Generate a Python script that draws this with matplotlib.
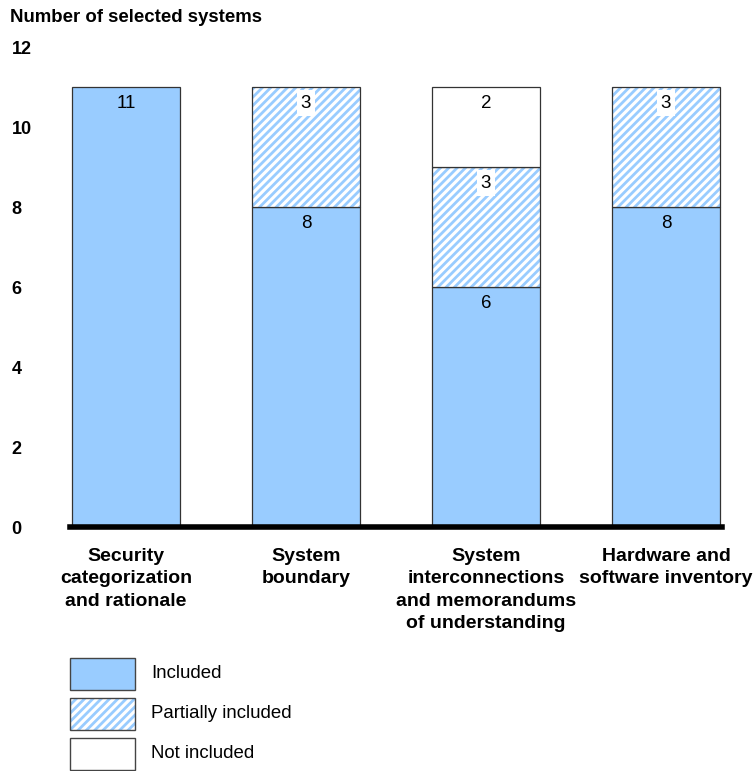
import matplotlib
matplotlib.use('Agg')
import matplotlib.pyplot as plt
from matplotlib.patches import Rectangle

plt.rcParams['font.family'] = ['Liberation Sans', 'DejaVu Sans']
plt.rcParams['hatch.linewidth'] = 2.0

CATEGORIES = ['Security\ncategorization\nand rationale',
              'System\nboundary',
              'System\ninterconnections\nand memorandums\nof understanding',
              'Hardware and\nsoftware inventory']
INCLUDED = [11, 8, 6, 8]
PARTIAL = [0, 3, 3, 3]
NOT_INCLUDED = [0, 0, 2, 0]
Y_TICKS = [0, 2, 4, 6, 8, 10, 12]

BLUE = '#99CCFF'
EDGE = '#333333'
W, H = 753, 771

fig = plt.figure(figsize=(W / 100, H / 100), dpi=100, facecolor='white')
ax = fig.add_axes([70 / W, 1 - 527 / H, 652 / W, 480 / H])

x = list(range(len(CATEGORIES)))
width = 0.6

# included (solid)
ax.bar(x, INCLUDED, width, color=BLUE, edgecolor=EDGE, linewidth=0.9, zorder=2)
# partially included (hatched): hatch layer then outline
ax.bar(x, PARTIAL, width, bottom=INCLUDED, color='white', edgecolor=BLUE,
       hatch='////', linewidth=0, zorder=2)
px = [i for i in x if PARTIAL[i] > 0]
ax.bar(px, [PARTIAL[i] for i in px], width, bottom=[INCLUDED[i] for i in px],
       fill=False, edgecolor=EDGE, linewidth=0.9, zorder=3)
bottom3 = [a + b for a, b in zip(INCLUDED, PARTIAL)]
nx = [i for i in x if NOT_INCLUDED[i] > 0]
ax.bar(nx, [NOT_INCLUDED[i] for i in nx], width, bottom=[bottom3[i] for i in nx],
       color='white', edgecolor=EDGE, linewidth=0.9, zorder=3)

# value labels near segment tops
for i in x:
    segs = [(INCLUDED[i], 0, False),
            (PARTIAL[i], INCLUDED[i], True),
            (NOT_INCLUDED[i], bottom3[i], False)]
    for val, bot, boxed in segs:
        if val <= 0:
            continue
        kw = {}
        if boxed:
            kw['bbox'] = dict(facecolor='white', edgecolor='none', pad=3)
        ax.text(i, bot + val - 0.4, str(val), ha='center', va='center',
                fontsize=13.5, zorder=5, **kw)

ax.set_xlim(-0.311, 3.311)
ax.set_ylim(0, 12)
ax.set_yticks(Y_TICKS)
ax.set_yticklabels([str(t) for t in Y_TICKS], fontweight='bold', fontsize=13,
                   ha='left')
ax.tick_params(axis='y', length=0, pad=42)
ax.set_xticks(x)
ax.set_xticklabels(CATEGORIES, fontweight='bold', fontsize=14, va='top',
                   linespacing=1.42)
ax.tick_params(axis='x', length=0, pad=15)
for s in ['top', 'right', 'left']:
    ax.spines[s].set_visible(False)
ax.spines['bottom'].set_linewidth(4)
ax.spines['bottom'].set_zorder(6)

fig.text(10 / W, 1 - 18 / H, 'Number of selected systems', fontweight='bold',
         fontsize=13.4, va='center', ha='left')

# legend drawn manually
legend_items = [('Included', BLUE, None),
                ('Partially included', 'white', '////'),
                ('Not included', 'white', None)]
for k, (label, fc, hatch) in enumerate(legend_items):
    top = 658 + 40 * k
    box = (70 / W, 1 - (top + 32) / H)
    if hatch:
        fig.add_artist(Rectangle(box, 65 / W, 32 / H, transform=fig.transFigure,
                                 facecolor=fc, edgecolor=BLUE, hatch=hatch,
                                 linewidth=0))
        fig.add_artist(Rectangle(box, 65 / W, 32 / H, transform=fig.transFigure,
                                 fill=False, edgecolor='#444444', linewidth=1.0))
    else:
        fig.add_artist(Rectangle(box, 65 / W, 32 / H, transform=fig.transFigure,
                                 facecolor=fc, edgecolor='#444444', linewidth=1.0))
    fig.text(151 / W, 1 - (top + 15) / H, label, fontsize=13.4, va='center', ha='left')

fig.savefig('out.png', dpi=100, facecolor='white')
